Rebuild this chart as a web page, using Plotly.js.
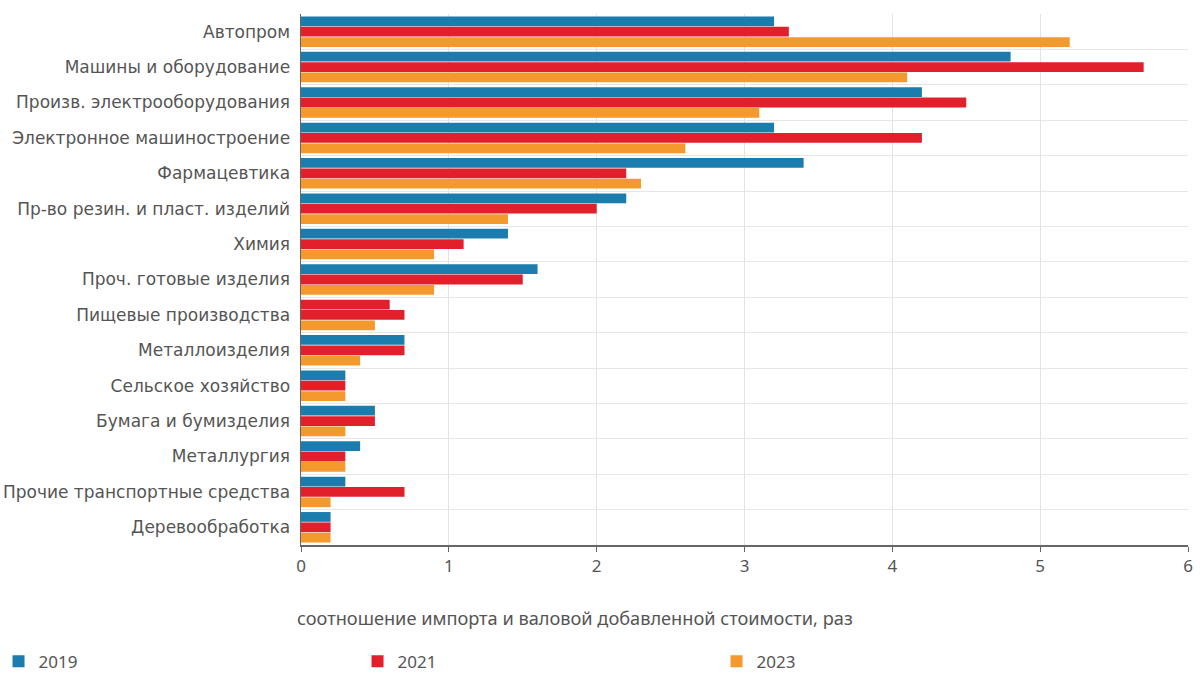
<!DOCTYPE html>
<html><head><meta charset="utf-8">
<script src="https://cdn.plot.ly/plotly-3.0.1.min.js"></script>
<style>html,body{margin:0;padding:0;background:#fff}#chart{width:1200px;height:673px}</style>
</head><body><div id="chart"></div>
<script>
const categories = ["Автопром","Машины и оборудование","Произв. электрооборудования","Электронное машиностроение","Фармацевтика","Пр-во резин. и пласт. изделий","Химия","Проч. готовые изделия","Пищевые производства","Металлоизделия","Сельское хозяйство","Бумага и бумизделия","Металлургия","Прочие транспортные средства","Деревообработка"];
const v2019 = [3.2,4.8,4.2,3.2,3.4,2.2,1.4,1.6,0.6,0.7,0.3,0.5,0.4,0.3,0.2];
const v2021 = [3.3,5.7,4.5,4.2,2.2,2.0,1.1,1.5,0.7,0.7,0.3,0.5,0.3,0.7,0.2];
const v2023 = [5.2,4.1,3.1,2.6,2.3,1.4,0.9,0.9,0.5,0.4,0.3,0.3,0.3,0.2,0.2];
const seriesNames = ["2019","2021","2023"];

const BLUE="#1a7dad", RED="#e2202b", ORANGE="#f3992d";
// the reference draws the 2019 bar for "Пищевые производства" in red
const c2019 = categories.map((c,i)=> i===8 ? RED : BLUE);

const traces = [
  {type:"bar",orientation:"h",name:seriesNames[0],y:categories,x:v2019,marker:{color:c2019}},
  {type:"bar",orientation:"h",name:seriesNames[1],y:categories,x:v2021,marker:{color:RED}},
  {type:"bar",orientation:"h",name:seriesNames[2],y:categories,x:v2023,marker:{color:ORANGE}}
];
const layout = {
  width:1200,height:673,
  margin:{l:301,r:12,t:14,b:128,autoexpand:false},
  paper_bgcolor:"#fff",plot_bgcolor:"#fff",
  barmode:"group",bargap:0.12,bargroupgap:0.06,
  font:{family:"DejaVu Sans, sans-serif",color:"#555"},
  xaxis:{range:[0,6],dtick:1,showgrid:true,gridcolor:"#e3e3e3",showline:true,linecolor:"#666",linewidth:1.5,
         ticks:"outside",ticklen:5,tickcolor:"#666",tickfont:{family:"Noto Sans, sans-serif",size:17,color:"#555"},zeroline:false,automargin:false},
  yaxis:{type:"category",autorange:"reversed",tickson:"boundaries",showgrid:true,gridcolor:"#e6e6e6",automargin:false,
         showline:true,linecolor:"#666",linewidth:1.5,ticks:"",ticklabelstandoff:6,tickfont:{family:"DejaVu Sans, sans-serif",size:17,color:"#555"}},
  showlegend:true,
  legend:{orientation:"h",x:-0.341,xanchor:"left",y:-0.186,yanchor:"top",entrywidth:314,itemwidth:30,
          font:{family:"Noto Sans, sans-serif",size:17,color:"#555"},traceorder:"normal"},
  annotations:[{xref:"paper",yref:"paper",x:0.309,y:-0.111,xanchor:"center",yanchor:"top",showarrow:false,
    text:"соотношение импорта и валовой добавленной стоимости, раз",
    font:{family:"Noto Sans, sans-serif",size:18.2,color:"#555"}}]
};
Plotly.newPlot("chart",traces,layout,{displayModeBar:false,staticPlot:true});
</script></body></html>
